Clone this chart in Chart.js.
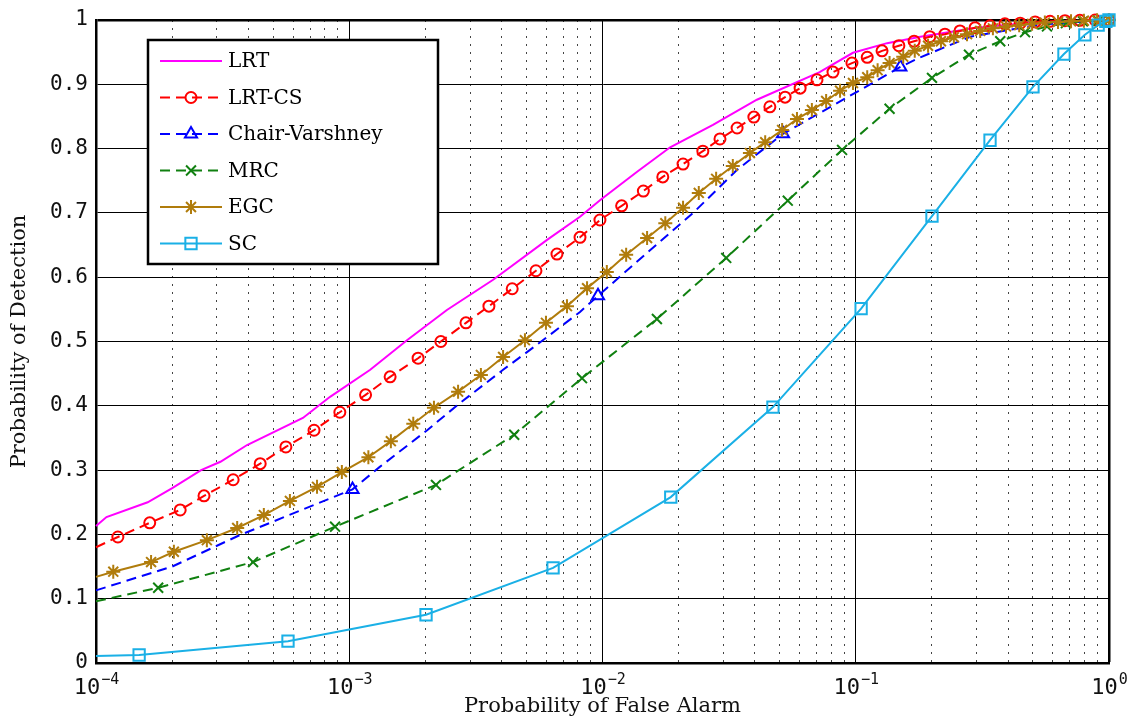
<!DOCTYPE html>
<html>
<head>
<meta charset="utf-8">
<script src="https://cdn.jsdelivr.net/npm/chart.js@4/dist/chart.umd.min.js"></script>
<style>
  html, body { margin: 0; padding: 0; background: #fff; }
  #chart { display: block; }
</style>
</head>
<body>
<canvas id="chart" width="1130" height="722"></canvas>
<script>
// datos (Pfa en escala log, Pd lineal)
const lrtX = [1e-4, 1.1e-4, 1.6e-4, 2e-4, 2.6e-4, 3.1e-4, 3.95e-4, 6.56e-4, 8.4e-4, 1.21e-3, 1.69e-3, 2.43e-3, 3.7e-3, 6.04e-3, 8.15e-3, 9.8e-3, 1.37e-2, 1.85e-2, 2.73e-2, 4.07e-2, 7.2e-2, 9.75e-2, 0.133, 0.18, 0.3, 0.5, 1];
const lrtY = [0.213, 0.227, 0.25, 0.272, 0.30, 0.313, 0.339, 0.381, 0.414, 0.456, 0.502, 0.549, 0.596, 0.658, 0.694, 0.72, 0.764, 0.802, 0.837, 0.876, 0.919, 0.949, 0.964, 0.974, 0.988, 0.996, 1];

const csX = [1e-4, 1.22e-4, 1.63e-4, 2.15e-4, 2.67e-4, 3.48e-4, 4.45e-4, 5.62e-4, 7.26e-4, 9.18e-4, 1.16e-3, 1.45e-3, 1.87e-3, 2.30e-3, 2.89e-3, 3.56e-3, 4.40e-3, 5.46e-3, 6.61e-3, 8.15e-3, 9.77e-3, 1.19e-2, 1.45e-2, 1.73e-2, 2.08e-2, 2.49e-2, 2.91e-2, 3.40e-2, 3.96e-2, 4.58e-2, 5.26e-2, 6.03e-2, 7.03e-2, 8.13e-2, 9.66e-2, 0.111, 0.127, 0.148, 0.170, 0.196, 0.225, 0.258, 0.296, 0.339, 0.388, 0.446, 0.511, 0.585, 0.670, 0.767, 0.881, 1];
const csY = [0.18, 0.196, 0.218, 0.238, 0.26, 0.285, 0.31, 0.336, 0.362, 0.39, 0.417, 0.445, 0.474, 0.50, 0.529, 0.555, 0.582, 0.61, 0.636, 0.662, 0.689, 0.711, 0.734, 0.756, 0.776, 0.796, 0.815, 0.832, 0.849, 0.865, 0.88, 0.894, 0.907, 0.919, 0.933, 0.942, 0.952, 0.96, 0.967, 0.974, 0.978, 0.983, 0.988, 0.991, 0.994, 0.995, 0.997, 0.998, 0.999, 0.9995, 1, 1];

const cvX = [1e-4, 2e-4, 3.7e-4, 1.03e-3, 1.32e-3, 2.03e-3, 2.73e-3, 4.05e-3, 5.51e-3, 8.15e-3, 9.6e-3, 1.5e-2, 2.28e-2, 3.4e-2, 5.16e-2, 8.91e-2, 0.104, 0.15, 0.18, 0.283, 0.533, 1];
const cvY = [0.113, 0.15, 0.199, 0.27, 0.305, 0.362, 0.404, 0.456, 0.495, 0.546, 0.571, 0.638, 0.70, 0.767, 0.823, 0.876, 0.891, 0.927, 0.942, 0.974, 0.993, 1];
const cvMk = [0, 0, 0, 1, 0, 0, 0, 0, 0, 0, 1, 0, 0, 0, 1, 0, 0, 1, 0, 0, 0, 0];

const mrcX = [1e-4, 1.76e-4, 4.17e-4, 8.79e-4, 2.2e-3, 4.48e-3, 8.3e-3, 1.64e-2, 3.08e-2, 5.39e-2, 8.83e-2, 0.136, 0.2, 0.28, 0.372, 0.466, 0.569, 0.676, 0.789, 0.906, 1];
const mrcY = [0.096, 0.117, 0.157, 0.212, 0.277, 0.355, 0.443, 0.535, 0.63, 0.719, 0.798, 0.862, 0.91, 0.946, 0.967, 0.981, 0.99, 0.995, 0.998, 0.999, 1];

const egcX = [1e-4, 1.17e-4, 1.65e-4, 2.03e-4, 2.74e-4, 3.61e-4, 4.60e-4, 5.83e-4, 7.46e-4, 9.35e-4, 1.19e-3, 1.46e-3, 1.79e-3, 2.16e-3, 2.69e-3, 3.31e-3, 4.05e-3, 4.94e-3, 5.98e-3, 7.24e-3, 8.69e-3, 1.04e-2, 1.24e-2, 1.50e-2, 1.77e-2, 2.08e-2, 2.40e-2, 2.81e-2, 3.27e-2, 3.82e-2, 4.39e-2, 5.12e-2, 5.86e-2, 6.71e-2, 7.64e-2, 8.67e-2, 9.75e-2, 0.111, 0.122, 0.136, 0.154, 0.171, 0.193, 0.217, 0.244, 0.275, 0.31, 0.348, 0.392, 0.442, 0.497, 0.558, 0.629, 0.708, 0.796, 0.897, 1];
const egcY = [0.134, 0.142, 0.157, 0.173, 0.191, 0.21, 0.23, 0.252, 0.274, 0.297, 0.32, 0.345, 0.372, 0.397, 0.422, 0.448, 0.476, 0.502, 0.529, 0.555, 0.583, 0.608, 0.635, 0.661, 0.684, 0.708, 0.731, 0.753, 0.773, 0.793, 0.81, 0.829, 0.846, 0.86, 0.874, 0.89, 0.902, 0.911, 0.922, 0.933, 0.943, 0.952, 0.96, 0.967, 0.973, 0.978, 0.983, 0.987, 0.99, 0.992, 0.994, 0.996, 0.997, 0.998, 0.999, 0.9995, 1];

const scX = [1e-4, 1.48e-4, 5.73e-4, 2.01e-3, 6.38e-3, 1.86e-2, 4.71e-2, 0.105, 0.2, 0.339, 0.501, 0.664, 0.803, 0.906, 0.972, 1];
const scY = [0.011, 0.0124, 0.034, 0.075, 0.148, 0.258, 0.398, 0.551, 0.695, 0.813, 0.896, 0.947, 0.977, 0.992, 0.998, 1];

const xDecades = [-4, -3, -2, -1, 0];
const yTicks = [0, 0.1, 0.2, 0.3, 0.4, 0.5, 0.6, 0.7, 0.8, 0.9, 1];

function toPts(xs, ys) {
  return xs.map((x, i) => ({ x: x, y: ys[i] }));
}

function isDecade(v) {
  const l = Math.log10(v);
  return Math.abs(l - Math.round(l)) < 1e-9;
}

// marcas en todos los puntos menos el primero
const skipFirst = r => ctx => (ctx.dataIndex === 0 ? 0 : r);

const datasets = [
  {
    label: 'LRT', data: toPts(lrtX, lrtY),
    borderColor: '#ff00ff', borderWidth: 2, pointRadius: 0, order: 6
  },
  {
    label: 'LRT-CS', data: toPts(csX, csY),
    borderColor: '#ff0000', borderWidth: 2, borderDash: [10, 6],
    pointStyle: 'circle', pointRadius: skipFirst(5.5), mkRadius: 5.5, order: 5
  },
  {
    label: 'Chair-Varshney', data: toPts(cvX, cvY),
    borderColor: '#0000ff', borderWidth: 2, borderDash: [10, 6],
    pointStyle: 'triangle', pointRadius: ctx => (cvMk[ctx.dataIndex] ? 7 : 0), mkRadius: 7, order: 4
  },
  {
    label: 'MRC', data: toPts(mrcX, mrcY),
    borderColor: '#108010', borderWidth: 2, borderDash: [10, 6],
    pointStyle: 'crossRot', pointRadius: skipFirst(7), mkRadius: 7, order: 3
  },
  {
    label: 'EGC', data: toPts(egcX, egcY),
    borderColor: '#b07c0c', borderWidth: 2,
    pointStyle: 'star', pointRadius: skipFirst(7), mkRadius: 7, order: 2
  },
  {
    label: 'SC', data: toPts(scX, scY),
    borderColor: '#1ab0e6', borderWidth: 2,
    pointStyle: 'rect', pointRadius: skipFirst(8), mkRadius: 8, order: 1
  }
];

datasets.forEach(ds => {
  ds.backgroundColor = 'rgba(0,0,0,0)';
  ds.pointBorderColor = ds.borderColor;
  ds.pointBackgroundColor = 'rgba(0,0,0,0)';
  ds.pointBorderWidth = 2;
  ds.pointHoverRadius = 0;
  ds.tension = 0;
  ds.fill = false;
  ds.clip = false;
});

// leyenda dentro del area, estilo matlab
const legendBox = {
  id: 'legendBox',
  afterDatasetsDraw(chart) {
    const ctx = chart.ctx;
    const x0 = 148, y0 = 40, w = 290, h = 224;
    ctx.save();
    ctx.fillStyle = '#fff';
    ctx.fillRect(x0, y0, w, h);
    ctx.lineWidth = 2.5;
    ctx.strokeStyle = '#000';
    ctx.setLineDash([]);
    ctx.strokeRect(x0, y0, w, h);
    ctx.font = '20px "DejaVu Serif"';
    ctx.textBaseline = 'middle';
    chart.data.datasets.forEach((ds, i) => {
      const y = y0 + 21 + i * 36.5;
      ctx.strokeStyle = ds.borderColor;
      ctx.lineWidth = ds.borderWidth;
      ctx.setLineDash(ds.borderDash || []);
      ctx.beginPath();
      ctx.moveTo(160, y);
      ctx.lineTo(222, y);
      ctx.stroke();
      ctx.setLineDash([]);
      if (ds.mkRadius) {
        ctx.fillStyle = 'rgba(0,0,0,0)';
        ctx.lineWidth = 2;
        Chart.helpers.drawPoint(ctx, { pointStyle: ds.pointStyle, radius: ds.mkRadius, borderWidth: 2, rotation: 0 }, 191, y);
      }
      ctx.fillStyle = '#000';
      ctx.fillText(ds.label, 228, y + 1);
    });
    ctx.restore();
  }
};

// etiquetas 10^n con exponente elevado, en la posicion de la escala x
const decadeLabels = {
  id: 'decadeLabels',
  afterDraw(chart) {
    const ctx = chart.ctx;
    const sc = chart.scales.x;
    const base = sc.bottom - 28;
    ctx.save();
    ctx.fillStyle = '#111';
    ctx.textBaseline = 'alphabetic';
    ctx.textAlign = 'left';
    xDecades.forEach(d => {
      const x = sc.getPixelForValue(Math.pow(10, d));
      const exp = (d < 0 ? '\u2212' : '') + Math.abs(d);
      ctx.font = '22px "DejaVu Sans Mono"';
      const w1 = ctx.measureText('10').width;
      ctx.font = '15px "DejaVu Sans Mono"';
      const w2 = ctx.measureText(exp).width;
      const left = x - (w1 + w2) / 2;
      ctx.font = '22px "DejaVu Sans Mono"';
      ctx.fillText('10', left, base);
      ctx.font = '15px "DejaVu Sans Mono"';
      ctx.fillText(exp, left + w1 + 1, base - 10);
    });
    ctx.restore();
  }
};

const tickFont = { family: '"DejaVu Sans Mono"', size: 21 };
const titleFont = { family: '"DejaVu Serif"', size: 21 };

new Chart(document.getElementById('chart'), {
  type: 'line',
  data: { datasets },
  plugins: [legendBox, decadeLabels],
  options: {
    responsive: false,
    animation: false,
    layout: { padding: { top: 20, right: 21, left: 0, bottom: 0 } },
    plugins: { legend: { display: false }, tooltip: { enabled: false } },
    scales: {
      x: {
        type: 'logarithmic',
        min: 1e-4,
        max: 1,
        afterBuildTicks: scale => {
          const t = [];
          xDecades.forEach(d => {
            const n = d === 0 ? 1 : 9;
            for (let k = 1; k <= n; k++) t.push({ value: k * Math.pow(10, d) });
          });
          scale.ticks = t;
        },
        afterFit: scale => {
          scale.height = 59;
          scale.paddingLeft = 0;
          scale.paddingRight = 0;
        },
        ticks: {
          autoSkip: false,
          maxRotation: 0,
          padding: 9,
          font: tickFont,
          callback: () => ''
        },
        grid: {
          drawTicks: false,
          color: ctx => (ctx.tick && !isDecade(ctx.tick.value) ? '#444' : '#000'),
          lineWidth: ctx => (ctx.tick && ctx.tick.value === 1 ? 2.5 : 1)
        },
        border: {
          display: true, color: '#000', width: 2.5,
          dash: ctx => (ctx.tick && !isDecade(ctx.tick.value) ? [2, 6] : [])
        },
        title: {
          display: true,
          text: 'Probability of False Alarm',
          font: titleFont,
          color: '#111',
          padding: { top: 0, bottom: 3 }
        }
      },
      y: {
        type: 'linear',
        min: 0,
        max: 1,
        afterBuildTicks: scale => { scale.ticks = yTicks.map(v => ({ value: v })); },
        afterFit: scale => {
          scale.width = 96;
          scale.paddingTop = 0;
          scale.paddingBottom = 0;
        },
        ticks: {
          padding: 8,
          color: '#111',
          font: tickFont,
          callback: v => (v === 0 || v === 1 ? String(v) : v.toFixed(1))
        },
        grid: {
          drawTicks: false,
          color: '#000',
          lineWidth: ctx => (ctx.tick && ctx.tick.value === 1 ? 2.5 : 1)
        },
        border: { display: true, color: '#000', width: 2.5 },
        title: {
          display: true,
          text: 'Probability of Detection',
          font: titleFont,
          color: '#111',
          padding: { top: 7, bottom: 0 }
        }
      }
    }
  }
});
</script>
</body>
</html>
